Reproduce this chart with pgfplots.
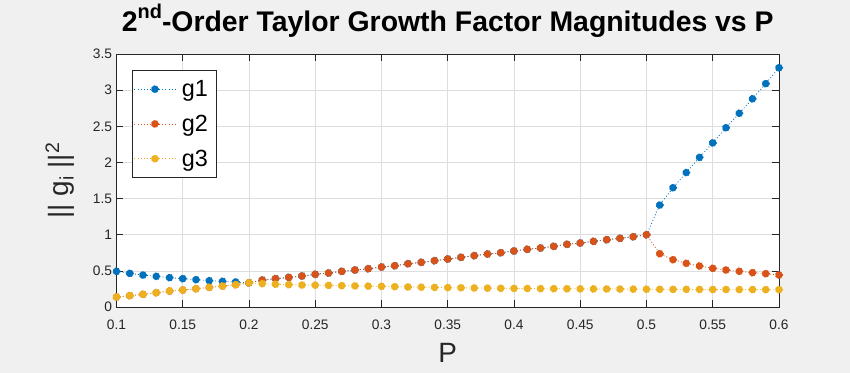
\documentclass[border=0pt]{standalone}
\usepackage{fontspec}
\setmainfont{Liberation Sans}
\usepackage{pgfplots}
\pgfplotsset{compat=1.18}
\definecolor{bgc}{HTML}{F0F0F0}
\definecolor{axc}{HTML}{262626}
\definecolor{gridc}{HTML}{DEDEDE}
\definecolor{c1}{HTML}{0072BD}
\definecolor{c2}{HTML}{D95319}
\definecolor{c3}{HTML}{EDB120}
\begin{document}
\begin{tikzpicture}
\fill[bgc] (0,0) rectangle (850bp,373bp);
\begin{axis}[
  at={(116.5bp,66bp)}, anchor=south west,
  scale only axis, width=662.5bp, height=253bp,
  xmin=0.1, xmax=0.6, ymin=0, ymax=3.5,
  xtick={0.1,0.15,0.2,0.25,0.3,0.35,0.4,0.45,0.5,0.55,0.6},
  xticklabels={0.1,0.15,0.2,0.25,0.3,0.35,0.4,0.45,0.5,0.55,0.6},
  ytick={0,0.5,1,1.5,2,2.5,3,3.5},
  yticklabels={0,0.5,1,1.5,2,2.5,3,3.5},
  tick align=inside, major tick length=6.6bp,
  tick style={color=axc, line width=0.7bp},
  axis line style={color=axc, line width=0.8bp},
  grid=major, major grid style={color=gridc, line width=0.7bp},
  axis background/.style={fill=white},
  ticklabel style={font=\fontsize{13.8}{14}\selectfont, text=axc},
  xticklabel style={anchor=base, yshift=-22bp},
  yticklabel style={anchor=east, xshift=-1bp},
  xlabel={P}, ylabel={|| g\textsubscript{i} ||\textsuperscript{2}},
  xlabel style={at={(axis description cs:0.5,-0.2202)}, anchor=base, font=\fontsize{28}{28}\selectfont, text=axc},
  ylabel style={at={(axis description cs:-0.0732,0.5)}, anchor=base, rotate=0, font=\fontsize{28}{28}\selectfont, text=axc},
  title={\textbf{2\raisebox{13bp}{\fontsize{20}{20}\selectfont nd}-Order Taylor Growth Factor Magnitudes vs P}},
  title style={at={(axis description cs:0.5,1)}, anchor=base, yshift=16.3bp, font=\fontsize{28.5}{29}\selectfont, text=black},
  legend style={at={(axis description cs:0.0229,0.9368)}, anchor=north west, draw=axc, fill=white, line width=0.8bp,
    font=\fontsize{23.5}{24}\selectfont, nodes={inner sep=6bp}, inner xsep=2bp, inner ysep=4bp, row sep=5bp},
  legend cell align=left,
  legend image code/.code={\draw[mark repeat=2,mark phase=2,#1] plot coordinates {(0bp,0bp) (20.5bp,0bp) (41bp,0bp)};},
  every axis plot/.append style={line width=0.8bp, dash pattern=on 0.9bp off 2.2bp, mark=*, mark size=3.7bp, mark options={solid}},
  clip=false,
]
\addplot[color=c1, mark options={fill=c1, draw=c1}] coordinates {
(0.10,0.493) (0.11,0.465) (0.12,0.442) (0.13,0.424) (0.14,0.406) (0.15,0.392) (0.16,0.378) (0.17,0.364) (0.18,0.355) (0.19,0.346)
(0.20,0.335) (0.21,0.373) (0.22,0.392) (0.23,0.410) (0.24,0.429) (0.25,0.452) (0.26,0.470) (0.27,0.493) (0.28,0.512) (0.29,0.530)
(0.30,0.553) (0.31,0.571) (0.32,0.599) (0.33,0.618) (0.34,0.641) (0.35,0.664) (0.36,0.687) (0.37,0.710) (0.38,0.733) (0.39,0.751)
(0.40,0.775) (0.41,0.798) (0.42,0.816) (0.43,0.839) (0.44,0.867) (0.45,0.885) (0.46,0.908) (0.47,0.931) (0.48,0.950) (0.49,0.972)
(0.50,1.000) (0.51,1.410) (0.52,1.650) (0.53,1.860) (0.54,2.070) (0.55,2.270) (0.56,2.480) (0.57,2.680) (0.58,2.880) (0.59,3.090)
(0.60,3.310)};
\addlegendentry{g1}
\addplot[color=c2, mark options={fill=c2, draw=c2}] coordinates {
(0.10,0.138) (0.11,0.157) (0.12,0.175) (0.13,0.198) (0.14,0.221) (0.15,0.235) (0.16,0.253) (0.17,0.272) (0.18,0.290) (0.19,0.309)
(0.20,0.335) (0.21,0.373) (0.22,0.392) (0.23,0.410) (0.24,0.429) (0.25,0.452) (0.26,0.470) (0.27,0.493) (0.28,0.512) (0.29,0.530)
(0.30,0.553) (0.31,0.571) (0.32,0.599) (0.33,0.618) (0.34,0.641) (0.35,0.664) (0.36,0.687) (0.37,0.710) (0.38,0.733) (0.39,0.751)
(0.40,0.775) (0.41,0.798) (0.42,0.816) (0.43,0.839) (0.44,0.867) (0.45,0.885) (0.46,0.908) (0.47,0.931) (0.48,0.950) (0.49,0.972)
(0.50,1.000) (0.51,0.737) (0.52,0.654) (0.53,0.604) (0.54,0.567) (0.55,0.535) (0.56,0.512) (0.57,0.494) (0.58,0.475) (0.59,0.461)
(0.60,0.443)};
\addlegendentry{g2}
\addplot[color=c3, mark options={fill=c3, draw=c3}] coordinates {
(0.10,0.138) (0.11,0.157) (0.12,0.175) (0.13,0.198) (0.14,0.221) (0.15,0.235) (0.16,0.253) (0.17,0.272) (0.18,0.290) (0.19,0.309)
(0.20,0.335) (0.21,0.323) (0.22,0.315) (0.23,0.309) (0.24,0.304) (0.25,0.302) (0.26,0.299) (0.27,0.295) (0.28,0.292) (0.29,0.289)
(0.30,0.286) (0.31,0.281) (0.32,0.277) (0.33,0.274) (0.34,0.271) (0.35,0.268) (0.36,0.266) (0.37,0.263) (0.38,0.261) (0.39,0.259)
(0.40,0.257) (0.41,0.256) (0.42,0.254) (0.43,0.253) (0.44,0.252) (0.45,0.251) (0.46,0.250) (0.47,0.249) (0.48,0.248) (0.49,0.247)
(0.50,0.246) (0.51,0.245) (0.52,0.244) (0.53,0.244) (0.54,0.243) (0.55,0.242) (0.56,0.242) (0.57,0.241) (0.58,0.241) (0.59,0.240)
(0.60,0.240)};
\addlegendentry{g3}
\end{axis}
\pgfresetboundingbox
\path[use as bounding box] (0,0) rectangle (850bp,373bp);
\end{tikzpicture}
\end{document}
